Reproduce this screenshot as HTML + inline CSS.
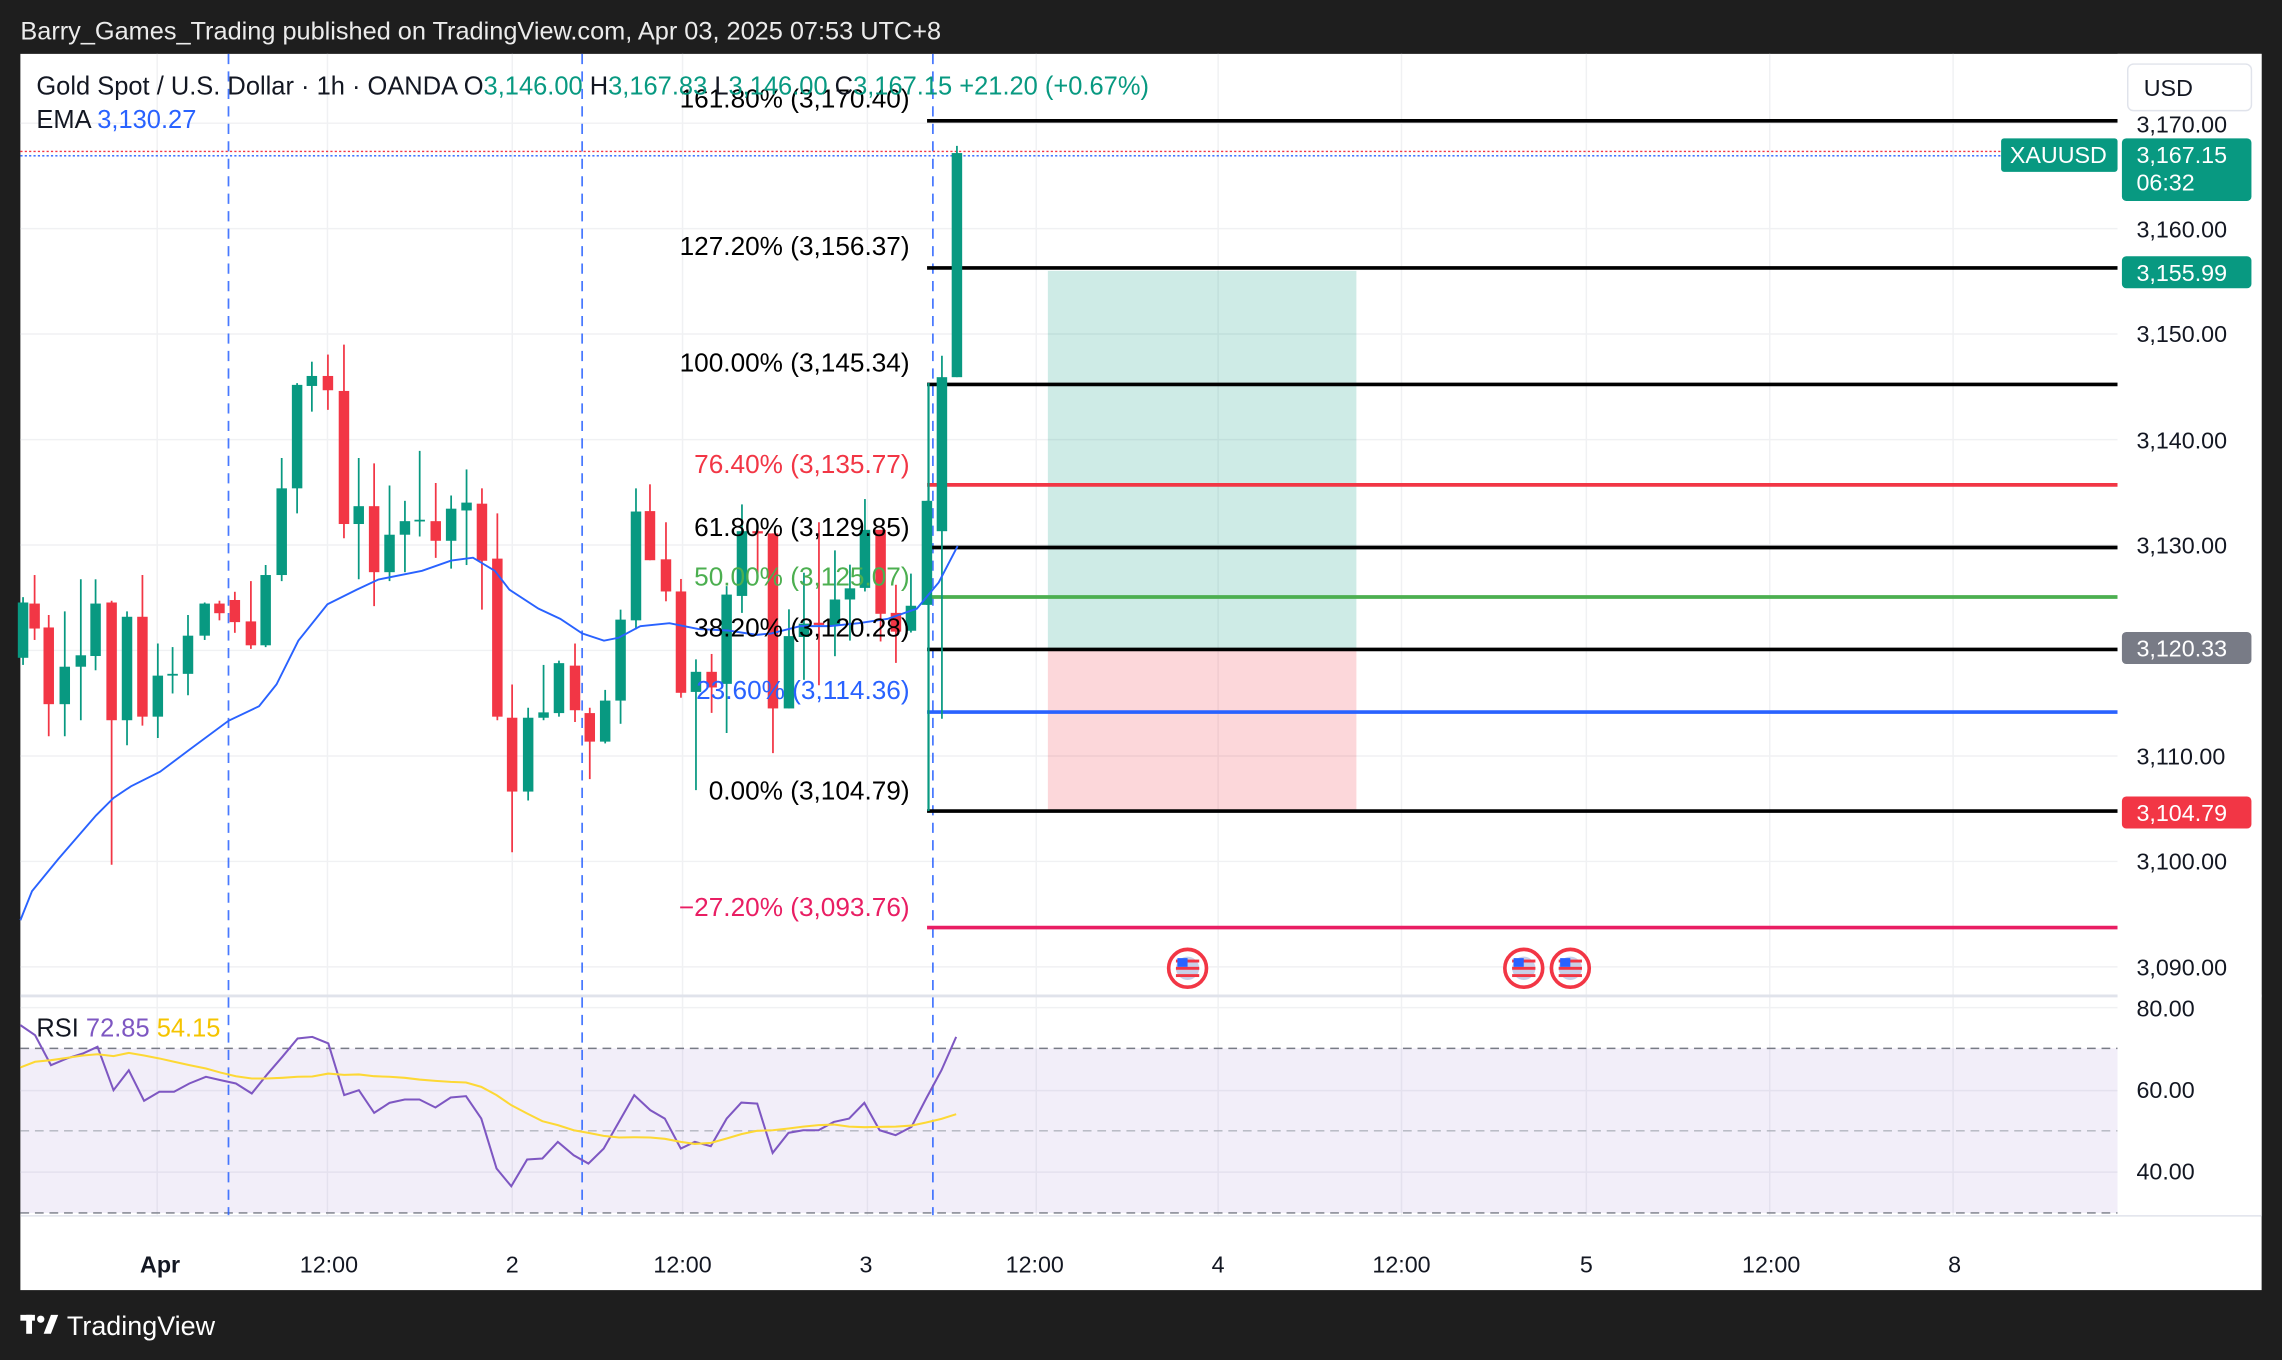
<!DOCTYPE html>
<html><head><meta charset="utf-8"><style>
html,body{margin:0;padding:0;background:#1e1e1e;}
svg{display:block;font-family:"Liberation Sans",sans-serif;}
</style></head><body>
<svg id="s" width="2282" height="1360" viewBox="0 0 1568 934" preserveAspectRatio="none" xmlns="http://www.w3.org/2000/svg">
<rect x="0" y="0" width="1568" height="934" fill="#1e1e1e"/>
<rect x="14" y="37" width="1540" height="849" fill="#ffffff"/>
<text x="14" y="27" fill="#ececec" font-size="17.4">Barry_Games_Trading published on TradingView.com, Apr 03, 2025 07:53 UTC+8</text>
<g id="grid" stroke="#f0f1f3" stroke-width="1"></g>
<rect x="14" y="720" width="1441" height="113" fill="#7e57c2" fill-opacity="0.1"/>
<line x1="14" y1="720" x2="1455" y2="720" stroke="#787b86" stroke-dasharray="6,4"/>
<line x1="14" y1="776.6" x2="1455" y2="776.6" stroke="#b2b5be" stroke-dasharray="6,4"/>
<line x1="14" y1="833" x2="1455" y2="833" stroke="#787b86" stroke-dasharray="6,4"/>
<line x1="14" y1="684" x2="1554" y2="684" stroke="#e0e3eb" stroke-width="2"/>
<rect x="720" y="186" width="212" height="260" fill="#089981" fill-opacity="0.2"/>
<rect x="720" y="446" width="212" height="111" fill="#f23645" fill-opacity="0.2"/>
<g stroke="#2962ff" stroke-dasharray="7,5" stroke-width="1.2" opacity="0.85">
<line x1="157" y1="37" x2="157" y2="835"/><line x1="400" y1="37" x2="400" y2="835"/><line x1="641" y1="37" x2="641" y2="835"/>
</g>
<line x1="14" y1="104" x2="1455" y2="104" stroke="#f23645" stroke-dasharray="1.5,1.5"/>
<line x1="14" y1="107" x2="1455" y2="107" stroke="#2962ff" stroke-dasharray="1.5,1.5"/>
<g stroke-width="2.5">
<line x1="637" y1="83" x2="1455" y2="83" stroke="#000"/>
<line x1="637" y1="184" x2="1455" y2="184" stroke="#000"/>
<line x1="637" y1="264" x2="1455" y2="264" stroke="#000"/>
<line x1="637" y1="333" x2="1455" y2="333" stroke="#f23645"/>
<line x1="637" y1="376" x2="1455" y2="376" stroke="#000"/>
<line x1="637" y1="410" x2="1455" y2="410" stroke="#4caf50"/>
<line x1="637" y1="446" x2="1455" y2="446" stroke="#000"/>
<line x1="637" y1="489" x2="1455" y2="489" stroke="#2962ff"/>
<line x1="637" y1="557" x2="1455" y2="557" stroke="#000"/>
<line x1="637" y1="637" x2="1455" y2="637" stroke="#e91e63"/>
</g>
<line x1="638" y1="263" x2="638" y2="557" stroke="#089981" stroke-width="1.5"/>
<g id="candles"></g>
<polyline id="ema" fill="none" stroke="#2962ff" stroke-width="1.3"/>
<polyline id="rsi" fill="none" stroke="#7e57c2" stroke-width="1.4"/>
<polyline id="rsima" fill="none" stroke="#fdd835" stroke-width="1.4"/>
<g font-size="18" text-anchor="end">
<text x="625" y="74" fill="#000">161.80% (3,170.40)</text>
<text x="625" y="175" fill="#000">127.20% (3,156.37)</text>
<text x="625" y="255" fill="#000">100.00% (3,145.34)</text>
<text x="625" y="325" fill="#f23645">76.40% (3,135.77)</text>
<text x="625" y="368" fill="#000">61.80% (3,129.85)</text>
<text x="625" y="402" fill="#4caf50">50.00% (3,125.07)</text>
<text x="625" y="437" fill="#000">38.20% (3,120.28)</text>
<text x="625" y="480" fill="#2962ff">23.60% (3,114.36)</text>
<text x="625" y="549" fill="#000">0.00% (3,104.79)</text>
<text x="625" y="629" fill="#e91e63">−27.20% (3,093.76)</text>
</g>
<g font-size="17.5">
<text x="25" y="65" fill="#131722">Gold Spot / U.S. Dollar · 1h · OANDA  O<tspan fill="#089981">3,146.00</tspan>  H<tspan fill="#089981">3,167.83</tspan>  L<tspan fill="#089981">3,146.00</tspan>  C<tspan fill="#089981">3,167.15  +21.20 (+0.67%)</tspan></text>
<text x="25" y="88" fill="#131722">EMA  <tspan fill="#2962ff">3,130.27</tspan></text>
<text x="25" y="712" fill="#131722">RSI  <tspan fill="#7e57c2">72.85</tspan>  <tspan fill="#f5c400">54.15</tspan></text>
</g>
<g>
<circle cx="816" cy="665" r="13" fill="#fff" stroke="#f23645" stroke-width="2.5"/><circle cx="816" cy="665" r="8" fill="#c8d0e8"/><rect x="808" y="659" width="16" height="2" fill="#f23645"/><rect x="808" y="664" width="16" height="2" fill="#f23645"/><rect x="808" y="669" width="16" height="2" fill="#f23645"/><rect x="809" y="658" width="7" height="6" fill="#2962ff"/>
<circle cx="1047" cy="665" r="13" fill="#fff" stroke="#f23645" stroke-width="2.5"/><circle cx="1047" cy="665" r="8" fill="#c8d0e8"/><rect x="1039" y="659" width="16" height="2" fill="#f23645"/><rect x="1039" y="664" width="16" height="2" fill="#f23645"/><rect x="1039" y="669" width="16" height="2" fill="#f23645"/><rect x="1040" y="658" width="7" height="6" fill="#2962ff"/>
<circle cx="1079" cy="665" r="13" fill="#fff" stroke="#f23645" stroke-width="2.5"/><circle cx="1079" cy="665" r="8" fill="#c8d0e8"/><rect x="1071" y="659" width="16" height="2" fill="#f23645"/><rect x="1071" y="664" width="16" height="2" fill="#f23645"/><rect x="1071" y="669" width="16" height="2" fill="#f23645"/><rect x="1072" y="658" width="7" height="6" fill="#2962ff"/>
</g>
<rect x="1455" y="37" width="99" height="798" fill="#fff"/>
<g font-size="16" fill="#131722">
<text x="1468" y="91">3,170.00</text>
<text x="1468" y="163">3,160.00</text>
<text x="1468" y="235">3,150.00</text>
<text x="1468" y="308">3,140.00</text>
<text x="1468" y="380">3,130.00</text>
<text x="1468" y="525">3,110.00</text>
<text x="1468" y="597">3,100.00</text>
<text x="1468" y="670">3,090.00</text>
<text x="1468" y="698">80.00</text>
<text x="1468" y="754">60.00</text>
<text x="1468" y="810">40.00</text>
</g>
<rect x="1462" y="44" width="85" height="32" rx="4" fill="#fff" stroke="#e0e3eb"/>
<text x="1473" y="66" font-size="16" fill="#131722">USD</text>
<rect x="1375" y="95" width="80" height="23" rx="2" fill="#089981"/>
<text x="1381" y="112" font-size="16" fill="#fff">XAUUSD</text>
<rect x="1458" y="95" width="89" height="43" rx="3" fill="#089981"/>
<text x="1468" y="112" font-size="16" fill="#fff">3,167.15</text>
<text x="1468" y="131" font-size="16" fill="#fff">06:32</text>
<rect x="1458" y="176" width="89" height="22" rx="3" fill="#089981"/>
<text x="1468" y="193" font-size="16" fill="#fff">3,155.99</text>
<rect x="1458" y="434" width="89" height="22" rx="3" fill="#787b86"/>
<text x="1468" y="451" font-size="16" fill="#fff">3,120.33</text>
<rect x="1458" y="547" width="89" height="22" rx="3" fill="#f23645"/>
<text x="1468" y="564" font-size="16" fill="#fff">3,104.79</text>
<line x1="14" y1="835" x2="1554" y2="835" stroke="#e0e3eb"/>
<g font-size="16" fill="#131722" text-anchor="middle">
<text x="110" y="874" font-weight="bold">Apr</text>
<text x="226" y="874">12:00</text><text x="352" y="874">2</text><text x="469" y="874">12:00</text>
<text x="595" y="874">3</text><text x="711" y="874">12:00</text><text x="837" y="874">4</text>
<text x="963" y="874">12:00</text><text x="1090" y="874">5</text><text x="1217" y="874">12:00</text><text x="1343" y="874">8</text>
</g>
<g fill="#fff"><rect x="14" y="903" width="10" height="4"/><rect x="18" y="903" width="4" height="13"/><circle cx="28" cy="906" r="2.5"/><polygon points="30,916 35,903 40,903 35,916"/></g>
<text x="46" y="917" font-size="18.5" fill="#ffffff">TradingView</text>
</svg>
<script>
var NS="http://www.w3.org/2000/svg",s=document.getElementById('s');
function el(p,n,a){var e=document.createElementNS(NS,n);for(var k in a)e.setAttribute(k,a[k]);p.appendChild(e);return e;}
var g=document.getElementById('grid');
[108,225,352,469,596,712,837,963,1090,1216,1342].forEach(function(x){el(g,'line',{x1:x,y1:37,x2:x,y2:835});});
[84.6,157,229.4,301.9,374.3,446.7,519.2,591.6,664,692,749,805].forEach(function(y){el(g,'line',{x1:14,y1:y,x2:1455,y2:y});});
var c=document.getElementById('candles');
function draw(x,bt,bb,wt,wb,col){var f=col=='g'?'#089981':'#f23645';
el(c,'line',{x1:x,y1:wt,x2:x,y2:wb,stroke:f,'stroke-width':1.2});
el(c,'rect',{x:x-3.6,y:bt,width:7.2,height:Math.max(1.2,bb-bt),fill:f});}
var A=[[40,795,950,780,970,'g'],[58,798,868,718,900,'r'],[80,865,1080,830,1170,'r'],[105,975,1080,820,1170,'g'],[130,943,975,730,1125,'g'],[153,798,945,730,985,'g'],[178,795,1125,790,1530,'r'],[202,835,1125,820,1195,'g'],[226,835,1115,718,1140,'r'],[250,1000,1115,910,1175,'g'],[273,995,1000,920,1050,'g'],[297,888,995,830,1055,'g'],[323,798,888,795,900,'g'],[346,798,825,790,845,'r'],[370,788,850,765,880,'r'],[395,848,915,735,925,'r'],[418,718,915,690,920,'g'],[443,475,718,390,735,'g'],[467,185,475,180,545,'g'],[490,160,188,120,260,'g'],[515,160,200,100,255,'r'],[540,202,575,72,615,'r'],[563,525,575,390,730,'g'],[587,525,710,405,805,'r'],[611,605,710,467,735,'g'],[635,567,605,510,710,'g'],[658,563,567,370,610,'g'],[683,567,622,460,670,'r'],[707,532,622,495,700,'g'],[731,515,537,422,690,'g'],[755,518,678,475,815,'r'],[779,672,1115,545,1125,'r'],[802,1118,1325,1025,1495,'r'],[827,1118,1325,1090,1350,'g'],[851,1103,1118,970,1125,'g'],[875,965,1105,958,1115,'g'],[900,972,1097,910,1130,'r'],[923,1105,1185,1090,1290,'r'],[947,1070,1185,1040,1190,'g'],[971,843,1070,815,1135,'g'],[995,540,845,475,870,'g']];
A.forEach(function(d){var x=d[0]*0.441-1.8;function Y(v){return 219+v*0.245;}draw(x,Y(d[1]),Y(d[2]),Y(d[3]),Y(d[4]),d[5]);});
var B=[[90,880,990,820,990,'r'],[138,988,1060,905,1082,'r'],[183,1060,1287,1032,1298,'r'],[228,1240,1285,1212,1505,'g'],[275,1240,1275,1200,1332,'r'],[320,1067,1267,1048,1377,'g'],[366,925,1070,865,1108,'g'],[413,925,930,920,1025,'r'],[459,930,1322,930,1422,'r'],[507,1160,1322,1100,1322,'g'],[552,1132,1162,1018,1258,'g'],[597,1130,1135,905,1270,'r'],[645,1078,1136,968,1205,'g'],[690,1053,1078,1000,1170,'g'],[735,922,1052,853,1060,'g'],[782,922,1110,922,1172,'r'],[828,1108,1150,1045,1220,'r'],[873,1092,1148,1020,1152,'g'],[921,857,1090,857,1090,'g'],[966,580,925,532,1345,'g'],[1011,78,580,62,580,'g']];
B.forEach(function(d){var x=426+d[0]*0.229;function Y(v){return 81.2+v*0.3066;}draw(x,Y(d[1]),Y(d[2]),Y(d[3]),Y(d[4]),d[5]);});
document.getElementById('ema').setAttribute('points',"14,632 22,612 40,590 66,560 78,548 90,540 110,530 130,515 157,495 178,485 190,470 205,440 225,415 245,405 260,398 290,392 310,385 325,383 340,392 350,405 370,418 385,425 400,435 415,440 425,438 440,430 460,428 480,432 500,433 520,436 530,435 550,430 570,430 590,428 610,425 630,418 645,400 658,375");
function pts(a){var r=[];for(var i=0;i<a.length;i+=2)r.push((a[i]*0.438).toFixed(1)+","+(680+a[i+1]*0.229).toFixed(1));return r.join(" ");}
var R=[32,105,55,135,80,225,105,205,130,190,153,170,178,300,202,240,226,332,250,305,273,305,297,280,323,260,346,270,370,280,395,310,418,255,443,200,467,145,490,140,515,160,540,315,563,300,587,368,611,338,635,328,658,328,683,352,707,322,731,318,755,385,779,535,802,588,827,508,851,505,875,455,900,495,923,520,947,475,971,395,995,315,1020,360,1043,385,1068,475,1090,455,1115,468,1140,385,1163,337,1188,340,1212,488,1237,428,1260,420,1284,420,1308,395,1332,385,1356,338,1380,420,1405,435,1430,410,1453,325,1477,240,1500,140];
var M=[32,232,55,215,80,210,105,203,130,196,153,192,178,198,202,188,226,196,250,205,273,215,297,225,323,235,346,247,370,258,395,265,418,265,443,263,467,260,490,259,515,250,540,254,563,253,587,258,611,260,635,263,658,268,683,272,707,275,731,277,755,290,779,315,802,345,827,370,851,393,875,405,900,420,923,428,947,437,971,442,995,441,1020,442,1043,446,1068,455,1090,461,1115,458,1140,445,1163,432,1188,422,1212,420,1237,415,1260,409,1284,405,1308,403,1332,409,1356,411,1380,410,1405,409,1430,406,1453,397,1477,386,1500,372];
document.getElementById('rsi').setAttribute('points',pts(R));
document.getElementById('rsima').setAttribute('points',pts(M));
</script>
</body></html>
